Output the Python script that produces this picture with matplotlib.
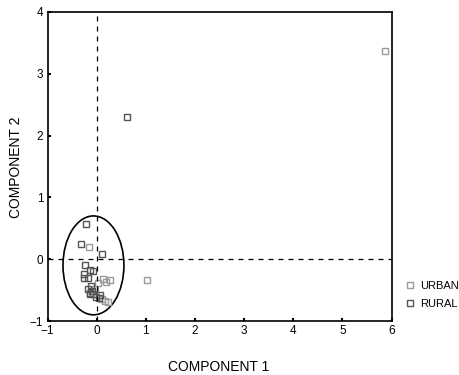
import matplotlib
matplotlib.use("Agg")
import matplotlib.pyplot as plt
from matplotlib.patches import Ellipse

plt.rcParams['font.family'] = ['Liberation Sans', 'DejaVu Sans']

urban_x = [5.87, 1.02, 0.12, 0.28, 0.20, 0.03, 0.10, 0.16, 0.23, -0.04, -0.16]
urban_y = [3.37, -0.33, -0.32, -0.33, -0.37, -0.39, -0.65, -0.68, -0.70, -0.48, 0.20]

rural_x = [0.61, -0.21, -0.31, 0.10, -0.23, -0.14, -0.08, -0.26, -0.26, -0.18,
           -0.11, -0.18, -0.14, -0.08, 0.06, -0.02, 0.05, -0.14, -0.10]
rural_y = [2.30, 0.57, 0.24, 0.09, -0.10, -0.17, -0.19, -0.24, -0.30, -0.30,
           -0.44, -0.48, -0.54, -0.57, -0.58, -0.61, -0.63, -0.57, -0.51]

xticks = [-1, 0, 1, 2, 3, 4, 5, 6]
yticks = [-1, 0, 1, 2, 3, 4]

fig = plt.figure(figsize=(4.59, 3.75), dpi=100)
ax = fig.add_axes([0.1035, 0.144, 0.7495, 0.824])

ax.plot(urban_x, urban_y, 's', ls='none', mfc='none', mec='#9a9a9a', ms=4, mew=1.0, label='URBAN')
ax.plot(rural_x, rural_y, 's', ls='none', mfc='none', mec='#555555', ms=4, mew=1.0, label='RURAL')

ax.axhline(0, color='black', lw=0.9, ls=(0, (4, 4)))
ax.axvline(0, color='black', lw=0.9, ls=(0, (4, 4)))

ell = Ellipse((-0.065, -0.10), 1.24, 1.60, fill=False, ec='black', lw=1.2)
ax.add_patch(ell)

ax.set_xlim(-1, 6)
ax.set_ylim(-1, 4)
ax.set_xticks(xticks)
ax.set_yticks(yticks)
ax.tick_params(direction='in', length=2, width=1.5, labelsize=8.5, pad=3)
for s in ax.spines.values():
    s.set_linewidth(1.2)

fig.text(219 / 459, 1 - 367 / 375, 'COMPONENT 1', fontsize=10, ha='center', va='center')
fig.text(16 / 459, 1 - 167 / 375, 'COMPONENT 2', fontsize=10, ha='center', va='center', rotation=90)

leg = ax.legend(loc='upper left', bbox_to_anchor=(1.012, 0.155), frameon=False,
                fontsize=8, handletextpad=0.3, labelspacing=0.7, handlelength=1.2,
                borderaxespad=0.3)

fig.savefig('out.png', dpi=100)
